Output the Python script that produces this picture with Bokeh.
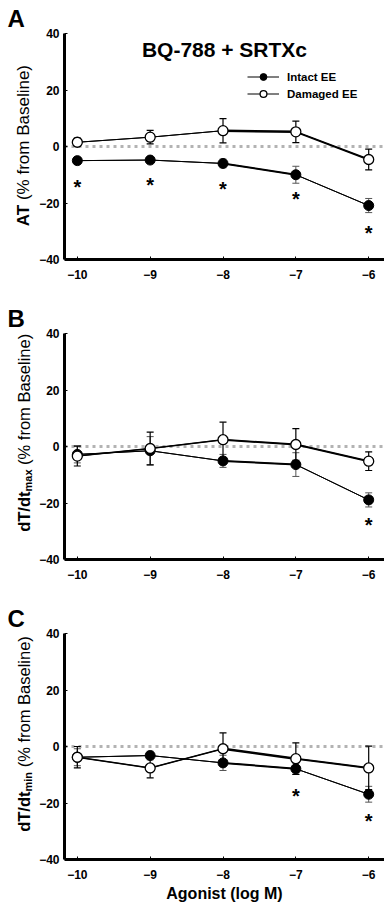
import math
from bokeh.plotting import figure
from bokeh.models import (ColumnDataSource, Whisker, TeeHead, Span, Label, Title,
                          Legend, LegendItem, FixedTicker, Range1d)
from bokeh.layouts import column, row
from bokeh.embed import file_html
from bokeh.resources import INLINE
from bokeh.core.properties import value

# ---------------- data ----------------
doses = [-10, -9, -8, -7, -6]
y_ticks = [-40, -20, 0, 20, 40]

# Panel A: AT
A_intact = [-5.0, -4.8, -6.0, -10.0, -20.9]
A_intact_err = [1.0, 1.0, 1.5, 3.0, 2.5]
A_damaged = [1.5, 3.3, 5.6, 5.2, -4.6]
A_damaged_err = [1.5, 2.4, 4.3, 3.8, 3.7]
A_star_x = [-10, -9, -8, -7, -6]
A_star_y = [-12.9, -12.3, -13.7, -17.3, -29.2]

# Panel B: dT/dt max
B_intact = [-2.8, -1.5, -5.1, -6.4, -18.9]
B_intact_err = [3.0, 5.0, 2.3, 4.2, 2.5]
B_damaged = [-3.4, -0.7, 2.4, 0.7, -5.2]
B_damaged_err = [3.5, 5.8, 6.2, 5.6, 3.3]
B_star_x = [-6]
B_star_y = [-26.4]

# Panel C: dT/dt min
C_intact = [-3.8, -3.2, -5.8, -7.9, -16.9]
C_intact_err = [3.0, 1.5, 2.7, 2.0, 2.8]
C_damaged = [-3.8, -7.6, -0.8, -4.3, -7.6]
C_damaged_err = [3.8, 3.5, 5.6, 5.6, 7.7]
C_star_x = [-7, -6]
C_star_y = [-16.1, -25.0]

title_text = "BQ-788 + SRTXc"
legend_labels = ["Intact EE", "Damaged EE"]
x_label = "Agonist (log M)"
y_label_rest = "(% from Baseline)"

# ---------------- style ----------------
FONT = "Liberation Sans"
A_w_int, A_w_dam = [1, 1, 2, 1], [1, 1, 2.5, 2]
B_w_int, B_w_dam = [1, 1, 2, 1], [1.5, 1.5, 2, 2]
C_w_int, C_w_dam = [1, 1, 2, 1], [1.5, 1.5, 2.5, 2]
STRIP_W = 36
TOTAL_W = 384
TOP = 33          # frame top inside each panel
FRAME_H = 226     # frame height


def lab(p, x, y, text, size, bold=True, align="left", angle=0.0):
    p.add_layout(Label(x=x, y=y, text=text,
                       text_font=FONT, text_font_size=size,
                       text_font_style="bold" if bold else "normal",
                       text_align=align, text_baseline="alphabetic",
                       angle=angle, text_color="black"))


def strip(height, letter, junction_y, main, sub=None, size=17.0):
    """Narrow figure on the left holding the panel letter and y-axis title.
    Its frame lines up with the panel frame; coordinates are pixels."""
    s = figure(width=STRIP_W, height=height, x_range=Range1d(0, STRIP_W),
               y_range=Range1d(0, FRAME_H), x_axis_type=None, y_axis_type=None,
               title=None, output_backend="svg", toolbar_location=None,
               min_border_left=0, min_border_right=0, min_border_top=TOP,
               min_border_bottom=height - TOP - FRAME_H)
    s.outline_line_color = None
    s.xgrid.visible = False
    s.ygrid.visible = False
    s.add_layout(Title(text=letter, align="left", offset=7, standoff=3,
                       text_font=FONT, text_font_size="24px",
                       text_font_style="bold", text_color="black"), "above")
    ang = math.pi / 2
    fs = f"{size}px"
    space = 0.278 * size
    lab(s, 23, junction_y, main, fs, True, "right", ang)
    if sub is None:
        lab(s, 23, junction_y + space, y_label_rest, fs, False, "left", ang)
    else:
        sub_w = 22 if sub == "max" else 19.6
        lab(s, 27.5, junction_y, sub, "11px", True, "left", ang)
        lab(s, 23, junction_y + sub_w + space, y_label_rest, fs, False, "left", ang)
    return s


def panel(height, intact, ierr, damaged, derr, w_int, w_dam, sx, sy):
    p = figure(width=TOTAL_W - STRIP_W, height=height, title=None,
               x_range=Range1d(-10.176, -5.783), y_range=Range1d(-40, 40),
               output_backend="svg", toolbar_location=None,
               min_border_left=60 - STRIP_W, min_border_right=0,
               min_border_top=TOP, min_border_bottom=height - TOP - FRAME_H)
    p.outline_line_color = None
    p.xgrid.visible = False
    p.ygrid.visible = False
    for ax in (p.xaxis[0], p.yaxis[0]):
        ax.axis_line_width = 3
        ax.axis_line_color = "black"
        ax.major_tick_in = 3
        ax.major_tick_out = 0
        ax.minor_tick_in = 0
        ax.minor_tick_out = 0
        ax.major_tick_line_width = 1
        ax.major_label_text_font = FONT
        ax.major_label_text_font_style = "bold"
        ax.major_label_text_font_size = "12px"
        ax.major_label_text_color = "black"
    p.xaxis.ticker = FixedTicker(ticks=doses)
    p.yaxis.ticker = FixedTicker(ticks=y_ticks)
    p.xaxis.major_label_standoff = 10
    p.yaxis.major_label_standoff = 5

    p.add_layout(Span(location=0, dimension="width", line_color="#b3b3b3",
                      line_width=3, line_dash="3 4", level="underlay"))

    for vals, errs, col, lw in ((intact, ierr, "#555555", 1.0),
                                (damaged, derr, "black", 1.2)):
        src = ColumnDataSource(dict(x=doses,
                                    upper=[v + e for v, e in zip(vals, errs)],
                                    lower=[v - e for v, e in zip(vals, errs)]))
        p.add_layout(Whisker(source=src, base="x", upper="upper", lower="lower",
                             line_color=col, line_width=lw, level="underlay",
                             upper_head=TeeHead(size=7, line_color=col, line_width=lw),
                             lower_head=TeeHead(size=7, line_color=col, line_width=lw)))

    rends = []
    for vals, ws in ((intact, w_int), (damaged, w_dam)):
        base = p.line(doses, vals, line_color="black", line_width=1)
        seg = ColumnDataSource(dict(x0=doses[:-1], y0=vals[:-1],
                                    x1=doses[1:], y1=vals[1:], w=ws))
        p.segment("x0", "y0", "x1", "y1", source=seg, line_width="w",
                  line_color="black")
        rends.append(base)

    s1 = p.scatter(doses, intact, marker="circle", size=10, fill_color="black",
                   line_color="black", line_width=1)
    s2 = p.scatter(doses, damaged, marker="circle", size=10, fill_color="white",
                   line_color="black", line_width=1.3)

    p.text(x=sx, y=sy, text=["*"] * len(sx), text_font=value(FONT),
           text_font_style="bold", text_font_size="20px", text_align="center",
           text_baseline="alphabetic", y_offset=4, text_color="black")
    return p, [(rends[0], s1), (rends[1], s2)]


pA, itemsA = panel(300, A_intact, A_intact_err, A_damaged, A_damaged_err,
                   A_w_int, A_w_dam, A_star_x, A_star_y)
pB, _ = panel(300, B_intact, B_intact_err, B_damaged, B_damaged_err,
              B_w_int, B_w_dam, B_star_x, B_star_y)
pC, _ = panel(308, C_intact, C_intact_err, C_damaged, C_damaged_err,
              C_w_int, C_w_dam, C_star_x, C_star_y)

# title (panel A), data units
lab(pA, -7.98, 34.2, title_text, "21px", True, "center")

# legend (panel A)
leg = Legend(items=[LegendItem(label=legend_labels[0], renderers=list(itemsA[0])),
                    LegendItem(label=legend_labels[1], renderers=list(itemsA[1]))],
             location=(183, 157), border_line_color=None,
             background_fill_alpha=0, label_text_font=FONT,
             label_text_font_style="bold", label_text_font_size="11.5px",
             label_text_color="black",
             glyph_width=32, glyph_height=17, label_height=17,
             label_standoff=8, margin=0, padding=0, spacing=0)
pA.add_layout(leg)

# x-axis title (panel C)
pC.xaxis.axis_label = x_label
pC.xaxis.axis_label_text_font = FONT
pC.xaxis.axis_label_text_font_style = "bold"
pC.xaxis.axis_label_text_font_size = "16px"
pC.xaxis.axis_label_text_color = "black"
pC.xaxis.axis_label_standoff = 3

sA = strip(300, "A", 54.7, "AT", None, 17.0)
sB = strip(300, "B", 68.0, "dT/dt", "max", 16.5)
sC = strip(308, "C", 68.0, "dT/dt", "min", 16.5)

layout = column(row(sA, pA), row(sB, pB), row(sC, pC))
open("out.html", "w").write(file_html(layout, INLINE))
